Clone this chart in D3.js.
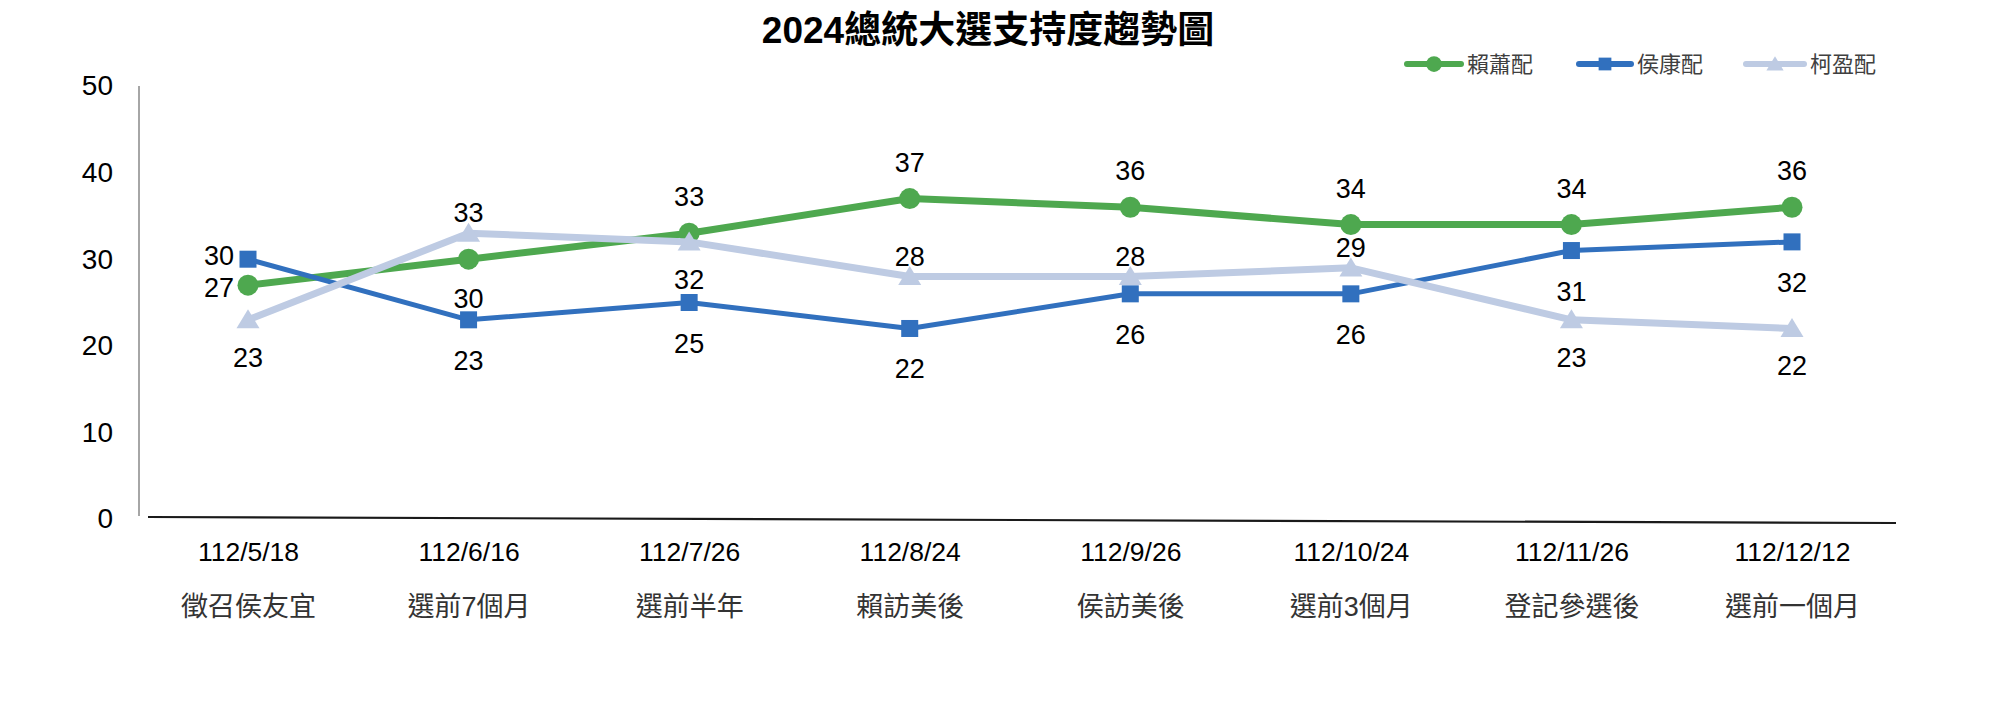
<!DOCTYPE html>
<html>
<head>
<meta charset="utf-8">
<script src="https://cdn.jsdelivr.net/npm/d3@7/dist/d3.min.js"></script>
<style>
  html, body { margin: 0; padding: 0; background: #fff; }
  svg { display: block; }
  text { font-family: "Liberation Sans", Arial, "Noto Sans CJK TC", sans-serif; }
</style>
</head>
<body>
<svg id="chart" width="1989" height="711"></svg>
<script>
// ---- data ----
const title = "2024總統大選支持度趨勢圖";
const dates = ["112/5/18", "112/6/16", "112/7/26", "112/8/24", "112/9/26", "112/10/24", "112/11/26", "112/12/12"];
const events = ["徵召侯友宜", "選前7個月", "選前半年", "賴訪美後", "侯訪美後", "選前3個月", "登記參選後", "選前一個月"];
const seriesNames = ["賴蕭配", "侯康配", "柯盈配"];
const laiHsiao = [27, 30, 33, 37, 36, 34, 34, 36];
const houKang = [30, 23, 25, 22, 26, 26, 31, 32];
const koYing = [23, 33, 32, 28, 28, 29, 23, 22];
const yTicks = [0, 10, 20, 30, 40, 50];
// label placement per point
const laiLabelPos = ["left", "below", "above", "above", "above", "above", "above", "above"];
const houLabelPos = ["left", "below", "below", "below", "below", "below", "below", "below"];
const koLabelPos = ["below", "above", "below", "above", "above", "above", "below", "below"];

// ---- styles ----
const series = [
  { name: seriesNames[0], values: laiHsiao, pos: laiLabelPos, color: "#4EA84F", width: 7, marker: "circle", above: 36, below: 40, leftDy: 3 },
  { name: seriesNames[1], values: houKang, pos: houLabelPos, color: "#3170BE", width: 5, marker: "square", above: 34, below: 41, leftDy: -3 },
  { name: seriesNames[2], values: koYing, pos: koLabelPos, color: "#BECBE3", width: 7, marker: "triangle", above: 20, below: 38, leftDy: 0 }
];

const svg = d3.select("#chart");
const x = d3.scalePoint().domain(dates).range([248, 1792]);
const y = d3.scaleLinear().domain([0, 50]).range([519, 86]);

// title
svg.append("text")
  .attr("x", 988).attr("y", 30)
  .attr("text-anchor", "middle").attr("dominant-baseline", "central")
  .attr("font-size", 37).attr("font-weight", "bold").attr("fill", "#000")
  .text(title);

// y axis
const yAxis = d3.axisLeft(y).tickValues(yTicks).tickSize(0).tickPadding(26);
const gy = svg.append("g").attr("transform", "translate(139,0)").call(yAxis);
gy.select(".domain").attr("stroke", "#a6a6a6").attr("stroke-width", 2)
  .attr("d", `M0,${y(50)}V${y(0) - 3}`);
gy.selectAll(".tick text").attr("font-size", 28).attr("fill", "#000")
  .attr("font-family", "Liberation Sans, Arial, sans-serif");

// x axis line (slightly tilted as in reference)
svg.append("line")
  .attr("x1", 148).attr("x2", 1896)
  .attr("y1", y(0) - 2).attr("y2", y(0) + 4)
  .attr("stroke", "#1a1a1a").attr("stroke-width", 2.2);

// category labels
const xAxis = d3.axisBottom(x).tickSize(0).tickPadding(0);
const gx = svg.append("g").call(xAxis);
gx.select(".domain").remove();
gx.selectAll(".tick text").remove();
gx.selectAll(".tick").each(function(d, i) {
  const g = d3.select(this);
  g.append("text").attr("y", 552).attr("text-anchor", "middle").attr("dominant-baseline", "central")
    .attr("font-size", 26.5).attr("fill", "#000").text(d);
  g.append("text").attr("y", 607).attr("text-anchor", "middle").attr("dominant-baseline", "central")
    .attr("font-size", 27).attr("fill", "#333").text(events[i]);
});

function drawMarker(g, type, cx, cy, color, scale) {
  const s = scale || 1;
  if (type === "circle") {
    g.append("circle").attr("cx", cx).attr("cy", cy).attr("r", 10.5 * s).attr("fill", color);
  } else if (type === "square") {
    const h = 8.5 * s;
    g.append("rect").attr("x", cx - h).attr("y", cy - h).attr("width", 2 * h).attr("height", 2 * h).attr("fill", color);
  } else {
    const w = 11.5 * s, hgt = 19 * s;
    g.append("path")
      .attr("d", `M${cx},${cy - hgt * 0.55}L${cx + w},${cy + hgt * 0.45}L${cx - w},${cy + hgt * 0.45}Z`)
      .attr("fill", color);
  }
}

const line = d3.line().x((d, i) => x(dates[i])).y(d => y(d));

series.forEach(s => {
  const g = svg.append("g");
  g.append("path").attr("d", line(s.values))
    .attr("fill", "none").attr("stroke", s.color).attr("stroke-width", s.width)
    .attr("stroke-linejoin", "round");
  s.values.forEach((v, i) => drawMarker(g, s.marker, x(dates[i]), y(v), s.color));
});

// data labels
series.forEach(s => {
  s.values.forEach((v, i) => {
    const px = x(dates[i]), py = y(v);
    const p = s.pos[i];
    const t = svg.append("text").attr("font-size", 27).attr("fill", "#000")
      .attr("dominant-baseline", "central").text(v);
    if (p === "left") {
      t.attr("x", px - 14).attr("y", py + s.leftDy).attr("text-anchor", "end");
    } else if (p === "above") {
      t.attr("x", px).attr("y", py - s.above).attr("text-anchor", "middle");
    } else {
      t.attr("x", px).attr("y", py + s.below).attr("text-anchor", "middle");
    }
  });
});

// legend
const legendItems = [
  { x0: 1407, x1: 1461, tx: 1467 },
  { x0: 1579, x1: 1631, tx: 1637 },
  { x0: 1746, x1: 1804, tx: 1810 }
];
series.forEach((s, i) => {
  const it = legendItems[i];
  const g = svg.append("g");
  const ly = 64;
  g.append("line").attr("x1", it.x0).attr("x2", it.x1).attr("y1", ly).attr("y2", ly)
    .attr("stroke", s.color).attr("stroke-width", 6).attr("stroke-linecap", "round");
  drawMarker(g, s.marker, (it.x0 + it.x1) / 2, ly, s.color, 0.75);
  g.append("text").attr("x", it.tx).attr("y", ly).attr("dominant-baseline", "central")
    .attr("font-size", 22).attr("fill", "#404040").text(s.name);
});
</script>
</body>
</html>
